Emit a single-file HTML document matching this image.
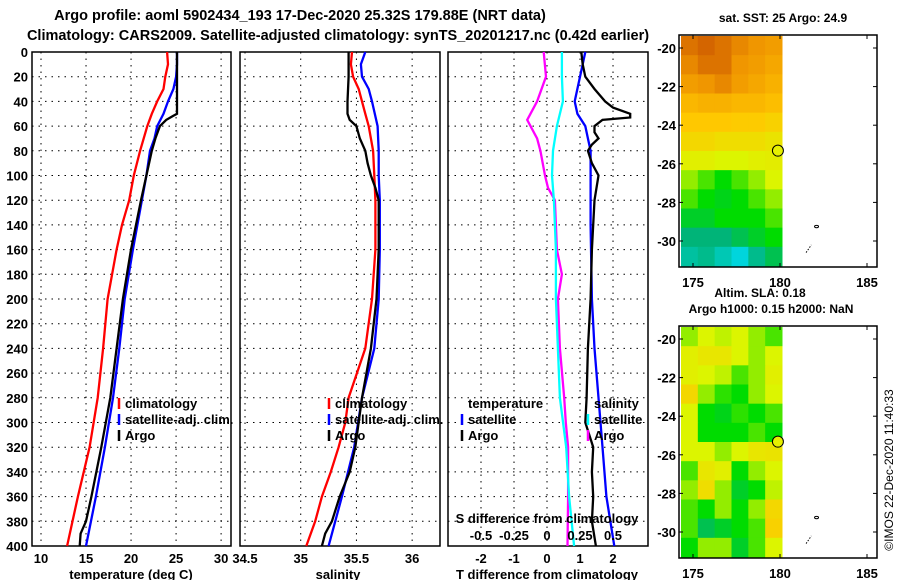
<!DOCTYPE html>
<html><head><meta charset="utf-8"><style>
body{margin:0;background:#fff}
svg{display:block;font-family:"Liberation Sans",Arial,sans-serif;font-weight:bold}
</style></head><body>
<svg id="c" width="900" height="580" viewBox="0 0 900 580">
<text x="300" y="20" text-anchor="middle" font-size="14.5">Argo profile: aoml 5902434_193 17-Dec-2020 25.32S 179.88E (NRT data)</text>
<text x="338" y="40" text-anchor="middle" font-size="14.5">Climatology: CARS2009. Satellite-adjusted climatology: synTS_20201217.nc (0.42d earlier)</text>
<text x="783" y="22" text-anchor="middle" font-size="12">sat. SST: 25 Argo: 24.9</text>
<text x="760" y="297" text-anchor="middle" font-size="12">Altim. SLA: 0.18</text>
<text x="771" y="313" text-anchor="middle" font-size="12">Argo h1000: 0.15 h2000: NaN</text>
<text transform="translate(893,470) rotate(-90)" text-anchor="middle" font-size="12" font-weight="normal">©IMOS 22-Dec-2020 11:40:33</text>
</svg>
<script>
// ---- data ----
const depthTicks=[0,20,40,60,80,100,120,140,160,180,200,220,240,260,280,300,320,340,360,380,400];
const tempTicks=[10,15,20,25,30];
const salTicks=[34.5,35,35.5,36];
const tdiffTicks=[-2,-1,0,1,2];
const sdiffTicks=[-0.5,-0.25,0,0.25,0.5];
const sdiffLabels=["-0.5","-0.25","0","0.25","0.5"];

const tClimDepth=[0,10,20,30,40,50,60,70,80,100,120,140,160,180,200,240,260,280,320,360,400];
const tClimVal=[24.0,24.1,23.8,23.6,22.9,22.3,21.8,21.4,21.0,20.3,19.8,19.0,18.4,17.9,17.4,16.9,16.6,16.3,15.4,14.1,12.9];
const tSatDepth=[0,10,20,30,40,50,60,70,80,100,120,160,200,240,280,320,360,400];
const tSatVal=[25.1,25.1,25.0,24.7,24.1,23.6,22.9,22.6,22.1,21.7,21.2,20.2,19.3,18.7,18.0,17.1,16.1,15.0];
const tArgoDepth=[0,50,52,55,60,70,80,100,120,160,200,240,280,320,360,380,390,400];
const tArgoVal=[25.1,25.1,24.6,23.9,23.2,22.7,22.3,21.7,21.1,20.0,19.1,18.4,17.7,16.7,15.6,15.0,14.4,14.3];

const sClimDepth=[0,10,20,30,40,50,60,70,80,100,120,160,200,240,280,300,320,340,360,380,400];
const sClimVal=[35.46,35.45,35.47,35.52,35.55,35.58,35.61,35.63,35.65,35.66,35.67,35.67,35.64,35.58,35.43,35.40,35.34,35.27,35.19,35.13,35.05];
const sSatDepth=[0,10,20,30,40,60,80,100,120,160,200,240,280,320,360,400];
const sSatVal=[35.58,35.54,35.55,35.61,35.64,35.69,35.70,35.70,35.71,35.71,35.70,35.66,35.55,35.48,35.37,35.25];
const sArgoDepth=[0,20,40,50,55,60,70,80,90,100,110,120,160,200,240,280,320,340,360,380,390,400];
const sArgoVal=[35.43,35.43,35.42,35.42,35.44,35.50,35.53,35.58,35.60,35.63,35.67,35.70,35.70,35.68,35.63,35.55,35.49,35.44,35.35,35.28,35.22,35.19];

const dTArgoDepth=[0,20,40,55,60,70,80,100,110,120,140,160,180,200,240,280,300,320,360,400];
const dTArgoVal=[-0.1,-0.03,-0.3,-0.6,-0.5,-0.3,-0.2,-0.06,0.03,0.24,0.27,0.3,0.45,0.33,0.39,0.52,0.57,0.64,0.64,0.62];
const dTSatDepth=[0,20,40,60,80,100,120,160,200,240,280,320,360,400];
const dTSatVal=[0.45,0.45,0.48,0.3,0.18,0.15,0.21,0.27,0.27,0.33,0.39,0.58,0.67,0.82];
const dSSatDepth=[0,10,20,40,50,60,70,80,100,140,200,240,280,320,360,400];
const dSSatVal=[0.29,0.27,0.25,0.21,0.23,0.29,0.31,0.33,0.33,0.33,0.34,0.36,0.39,0.42,0.45,0.51];
const dSArgoDepth=[0,10,20,30,40,45,50,53,55,60,65,70,75,80,90,100,120,160,200,240,280,300,320,340,360,380,400];
const dSArgoVal=[0.26,0.27,0.29,0.36,0.44,0.50,0.63,0.63,0.42,0.36,0.36,0.39,0.34,0.31,0.34,0.39,0.36,0.34,0.33,0.31,0.30,0.29,0.35,0.34,0.35,0.34,0.37];

const latTicks=[-20,-22,-24,-26,-28,-30];
const lonTicks=[175,180,185];
const sstGrid=[
[.95,.97,.95,.92,.9,.88],[.92,.95,.95,.9,.88,.85],[.88,.9,.92,.88,.85,.82],[.8,.82,.82,.8,.8,.78],
[.75,.75,.75,.74,.74,.72],[.7,.7,.68,.68,.68,.66],[.62,.62,.6,.6,.62,.63],[.55,.5,.45,.5,.55,.6],
[.5,.45,.42,.45,.5,.55],[.4,.4,.45,.45,.45,.5],[.3,.3,.3,.35,.4,.45],[.2,.25,.15,.05,.25,.35]];
const slaGrid=[
[.55,.6,.58,.6,.55,.5],[.62,.65,.65,.6,.55,.6],[.62,.6,.58,.5,.55,.62],[.7,.55,.48,.45,.55,.6],
[.6,.45,.42,.48,.45,.5],[.6,.45,.45,.45,.5,.45],[.6,.6,.55,.6,.65,.66],[.5,.65,.62,.45,.55,.6],
[.55,.68,.55,.4,.45,.58],[.5,.45,.55,.45,.55,.7],[.5,.35,.4,.45,.5,.72],[.45,.55,.55,.4,.5,.6]];
const argoLon=179.88, argoLat=-25.32;

// ---- drawing ----
const svg=document.getElementById('c');const NS='http://www.w3.org/2000/svg';
function mk(t,a,p){const e=document.createElementNS(NS,t);for(const k in a)e.setAttribute(k,a[k]);(p||svg).appendChild(e);return e;}
function txt(x,y,s,anchor,size,p){const e=mk('text',{x:x,y:y,'text-anchor':anchor||'middle','font-size':size||13},p);e.textContent=s;return e;}
const Y0=52,Y1=546;
const yD=d=>Y0+(Y1-Y0)*d/400;
function panel(name,x0,x1,vmin,vmax){
  const g=mk('g',{});
  
  
  return {g:g,x:v=>x0+(x1-x0)*(v-vmin)/(vmax-vmin),x0:x0,x1:x1};
}
function frame(P){
  depthTicks.forEach(d=>{const l=mk('line',{x1:P.x0,x2:P.x1,y1:yD(d),y2:yD(d),stroke:'#000','stroke-dasharray':'1.5,5'},P.g);
    });
  const r=mk('rect',{x:P.x0,y:Y0,width:P.x1-P.x0,height:Y1-Y0,fill:'none',stroke:'#000','stroke-width':1.5},P.g);
  
}
function vgrid(P,ticks){ticks.forEach(v=>{const l=mk('line',{x1:P.x(v),x2:P.x(v),y1:Y0,y2:Y1,stroke:'#000','stroke-dasharray':'1.5,5'},P.g);
  });}
function line(P,ds,vs,col,name){
  const pts=ds.map((d,i)=>P.x(vs[i]).toFixed(1)+','+yD(d).toFixed(1)).join(' ');
  const l=mk('polyline',{points:pts,fill:'none',stroke:col,'stroke-width':2.3},P.g);
  
}
function xlabels(P,ticks,labels,y){ticks.forEach((v,i)=>{const t=txt(P.x(v),y,labels?labels[i]:String(v),'middle',13,P.g);
  });}
function legend(P,x,y,items){items.forEach((it,i)=>{
  const l=mk('line',{x1:x,x2:x,y1:y+i*16-10,y2:y+i*16+1,stroke:it[1],'stroke-width':2.5},P.g);
  
  const t=txt(x+6,y+i*16,it[0],'start',13,P.g);});}

// depth labels
depthTicks.forEach(d=>{const t=txt(28,yD(d)+5,String(d),'end',13);});

const P1=panel('temperature-panel',32,231,9,31.1);
frame(P1);vgrid(P1,tempTicks);
line(P1,tClimDepth,tClimVal,'#f00','temp-climatology-line');
line(P1,tSatDepth,tSatVal,'#00f','temp-satellite-line');
line(P1,tArgoDepth,tArgoVal,'#000','temp-argo-line');
legend(P1,119,408,[['climatology','#f00'],['satellite-adj. clim.','#00f'],['Argo','#000']]);
xlabels(P1,tempTicks,null,563);
txt(131,579,'temperature (deg C)','middle',13,P1.g);

const P2=panel('salinity-panel',240,440,34.455,36.25);
frame(P2);vgrid(P2,salTicks);
line(P2,sClimDepth,sClimVal,'#f00','sal-climatology-line');
line(P2,sSatDepth,sSatVal,'#00f','sal-satellite-line');
line(P2,sArgoDepth,sArgoVal,'#000','sal-argo-line');
legend(P2,329,408,[['climatology','#f00'],['satellite-adj. clim.','#00f'],['Argo','#000']]);
xlabels(P2,salTicks,null,563);
txt(338,579,'salinity','middle',13,P2.g);

const P3=panel('difference-panel',448,648,-3,3.06);
const PS={g:P3.g,x:v=>P3.x(v*4),x0:448,x1:648};
frame(P3);vgrid(P3,tdiffTicks);
line(P3,dTArgoDepth,dTArgoVal,'#f0f','tdiff-argo-line');
line(P3,dTSatDepth,dTSatVal,'#0ff','tdiff-satellite-line');
line(PS,dSSatDepth,dSSatVal,'#00f','sdiff-satellite-line');
line(PS,dSArgoDepth,dSArgoVal,'#000','sdiff-argo-line');
txt(468,408,'temperature','start',13,P3.g);
legend(P3,462,424,[['satellite','#00f'],['Argo','#000']]);
txt(594,408,'salinity','start',13,P3.g);
legend(P3,588,424,[['satellite','#0ff'],['Argo','#f0f']]);
txt(547,523,'S difference from climatology','middle',13,P3.g);
xlabels(PS,sdiffTicks,sdiffLabels,540);
xlabels(P3,tdiffTicks,null,563);
txt(547,579,'T difference from climatology','middle',13,P3.g);

// maps
function cmap(v){
  const stops=[[0,[0,220,240]],[0.3,[0,180,120]],[0.45,[0,220,0]],[0.6,[220,245,0]],[0.75,[255,200,0]],[0.9,[240,150,0]],[1,[200,80,0]]];
  for(let i=1;i<stops.length;i++){if(v<=stops[i][0]){const a=stops[i-1],b=stops[i],t=(v-a[0])/(b[0]-a[0]);
    return 'rgb('+a[1].map((c,j)=>Math.round(c+(b[1][j]-c)*t)).join(',')+')';}}
  return 'rgb(200,80,0)';
}
function map(name,top,grid){
  const g=mk('g',{});
  const fx0=679,fx1=877,fy0=top,fy1=top+232;
  const lx=v=>693+(v-175)*17.4, ly=v=>fy0+13+(-20-v)*19.3;
  const ix0=681,ix1=782,iy0=fy0+1,iy1=fy1-1;
  const rows=grid.length,cols=grid[0].length,cw=(ix1-ix0)/cols,ch=(iy1-iy0)/rows;
  grid.forEach((row,r)=>row.forEach((v,c)=>{const e=mk('rect',{x:ix0+c*cw,y:iy0+r*ch,width:cw+0.5,height:ch+0.5,fill:cmap(v)},g);
    }));
  const fr=mk('rect',{x:fx0,y:fy0,width:fx1-fx0,height:fy1-fy0,fill:'none',stroke:'#000','stroke-width':1.5},g);
  
  latTicks.forEach(v=>{mk('line',{x1:fx0,x2:fx0+4,y1:ly(v),y2:ly(v),stroke:'#000'},g);mk('line',{x1:fx1-4,x2:fx1,y1:ly(v),y2:ly(v),stroke:'#000'},g);
    const t=txt(fx0-3,ly(v)+5,String(v),'end',13,g);});
  lonTicks.forEach(v=>{mk('line',{x1:lx(v),x2:lx(v),y1:fy0,y2:fy0+4,stroke:'#000'},g);mk('line',{x1:lx(v),x2:lx(v),y1:fy1-4,y2:fy1,stroke:'#000'},g);
    const t=txt(lx(v),fy1+20,String(v),'middle',13,g);});
  mk('ellipse',{cx:lx(182.1),cy:ly(-29.25),rx:2,ry:1.2,fill:'none',stroke:'#000'},g);
  mk('line',{x1:lx(181.5),y1:ly(-30.6),x2:lx(181.8),y2:ly(-30.2),stroke:'#000','stroke-dasharray':'1.5,1.5'},g);
  const m=mk('circle',{cx:lx(argoLon),cy:ly(argoLat),r:5.5,fill:'#e6f000',stroke:'#000'},g);
  
}
map('sst-map',35,sstGrid);
map('sla-map',326,slaGrid);
</script>
</body></html>
